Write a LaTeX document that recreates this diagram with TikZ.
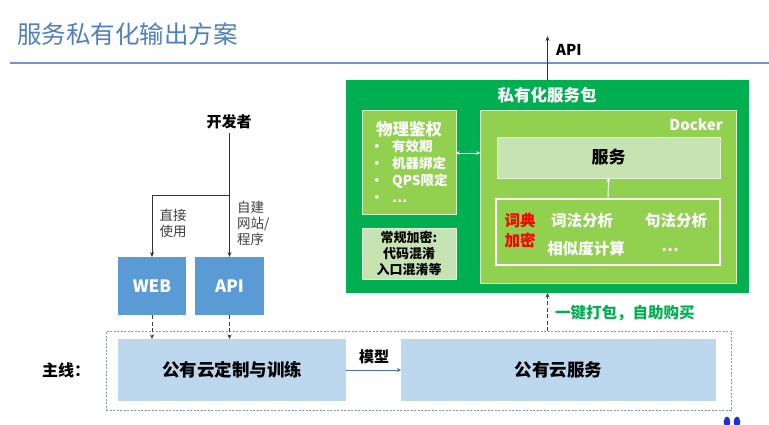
\documentclass[tikz,border=0pt]{standalone}
\usepackage{fontspec}
\setmainfont{Noto Sans CJK SC}
\usetikzlibrary{arrows.meta}
\definecolor{titleblue}{HTML}{4F7FBE}
\definecolor{lineblue}{HTML}{6A97D4}
\definecolor{pkggreen}{HTML}{00B050}
\definecolor{lgreen}{HTML}{92D050}
\definecolor{pgreen}{HTML}{C6E3B2}
\definecolor{boxblue}{HTML}{5B9BD5}
\definecolor{lblue}{HTML}{BDD7EE}
\definecolor{arrblue}{HTML}{4472C4}
\definecolor{dashgray}{HTML}{8497B0}
\definecolor{darkgray}{HTML}{404040}
\definecolor{logoblue}{HTML}{1F2FD0}
\newcommand{\fs}[2]{\fontsize{#1}{#2}\selectfont}
\begin{document}
\begin{tikzpicture}[x=1pt,y=-1pt,
  box/.style={inner sep=0pt, outer sep=0pt},
  wtxt/.style={text=white, font=\bfseries\fs{13}{16}, inner sep=0pt},
  btxt/.style={text=black, font=\bfseries\fs{13}{16}, inner sep=0pt},
  warr/.style={white, line width=0.9pt, -{Stealth[length=4pt,width=3.5pt]}},
  darr/.style={darkgray, line width=0.9pt, dashed, dash pattern=on 4pt off 2.5pt, -{Stealth[length=4.5pt,width=4pt]}},
  karr/.style={black!80, line width=0.9pt, -{Stealth[length=5pt,width=4pt]}}
]
\useasboundingbox (0,0) rectangle (769,425);
\fill[white] (0,0) rectangle (769,425);

% title
\node[anchor=west, text=titleblue, font=\fs{24.5}{28}, inner sep=0pt] (title) at (17,34) {服务私有化输出方案};
\coordinate (l1) at (10,63);
\coordinate (l2) at (769,63);
\draw[lineblue, line width=2pt] (l1) -- (l2);

% private package
\node[box, fill=pkggreen, minimum width=403pt, minimum height=213pt] (pkg) at (547.5,186.5) {};
\node[wtxt, font=\bfseries\fs{16.5}{19}] (pkgt) at (547,95) {私有化服务包};
\coordinate (apitop) at (547.5,36);
\draw[karr] (pkg.north) -- (apitop);
\node[btxt, anchor=west, font=\bfseries\fs{15}{18}] (apil) at (556,50) {API};

% auth box
\node[box, fill=lgreen, draw=white!70!lgreen, line width=0.6pt, minimum width=94pt, minimum height=104pt] (auth) at (409,162) {};
\node[wtxt, font=\bfseries\fs{16.5}{19}] (autht) at (409,129) {物理鉴权};
\node[wtxt, anchor=north west, align=left, font=\bfseries\fs{13.5}{17}] (authl) at (370,139.5)
  {\makebox[22pt][l]{·}有效期\\ \makebox[22pt][l]{·}机器绑定\\ \makebox[22pt][l]{·}QPS限定\\ \makebox[22pt][l]{·}…};

% encryption box
\node[box, fill=pgreen, draw=white!60!pgreen, line width=0.6pt, minimum width=94pt, minimum height=51pt, align=center, font=\bfseries\fs{13}{16}] (enc) at (409,253.5) {常规加密:\\代码混淆\\入口混淆等};

% docker box
\node[box, fill=lgreen, draw=white!70!lgreen, line width=0.8pt, minimum width=256pt, minimum height=173pt] (dock) at (608,196.5) {};
\node[wtxt, anchor=east, font=\bfseries\fs{15}{18}] (dockt) at (723,125) {Docker};
\node[box, fill=pgreen, draw=white!50!pgreen, line width=0.5pt, minimum width=223pt, minimum height=41pt, font=\bfseries\fs{17}{20}] (svc) at (608.5,157.5) {服务};
\node[box, draw=white, line width=1.1pt, minimum width=224pt, minimum height=66pt] (core) at (608,232) {};
\draw[warr] (core.north) -- (svc.south);
\draw[white, line width=0.9pt, {Stealth[length=3.5pt,width=3.5pt]}-{Stealth[length=3.5pt,width=3.5pt]}] ([yshift=9pt]auth.east) -- ([yshift=9pt]auth.east -| dock.west);

\node[text=red, font=\bfseries\fs{15.5}{20}, align=center, inner sep=0pt] (dict) at (520,231) {词典\\加密};
\node[wtxt, font=\bfseries\fs{15.5}{18}] (lex) at (582,221) {词法分析};
\node[wtxt, font=\bfseries\fs{15.5}{18}] (syn) at (676,221) {句法分析};
\node[wtxt, font=\bfseries\fs{15.5}{18}] (sim) at (586,249) {相似度计算};
\node[wtxt, font=\bfseries\fs{15.5}{18}] (etc) at (670,250) {…};

% main line
\node[box, draw=dashgray, line width=0.9pt, dash pattern=on 2pt off 1.5pt, minimum width=625pt, minimum height=79pt] (main) at (418.5,370.5) {};
\node[btxt, font=\bfseries\fs{16}{18}] (mainl) at (66,370) {主线：};
\node[box, fill=lblue, minimum width=228pt, minimum height=62pt, font=\bfseries\fs{17.5}{20}] (train) at (232,370) {公有云定制与训练};
\node[box, fill=lblue, minimum width=315pt, minimum height=62pt, font=\bfseries\fs{17.5}{20}] (cloud) at (558.5,370) {公有云服务};
\draw[arrblue, line width=1pt, -{Stealth[length=4pt,width=4pt]}] (train.east) -- (cloud.west);
\node[btxt, font=\bfseries\fs{15}{17}] (model) at (374,357) {模型};

\draw[darr] (main.north -| pkg.south) -- (pkg.south);
\node[anchor=west, text=pkggreen, font=\bfseries\fs{15.5}{18}, inner sep=0pt] (buy) at (555,313) {一键打包，自助购买};

% developer side
\node[box, fill=boxblue, minimum width=68pt, minimum height=58pt, text=white, font=\bfseries\fs{17}{20}] (web) at (152,286) {WEB};
\node[box, fill=boxblue, minimum width=69pt, minimum height=58pt, text=white, font=\bfseries\fs{17}{20}] (api) at (229.5,286) {API};
\node[btxt, font=\bfseries\fs{15}{18}] (dev) at (229,122) {开发者};
\coordinate (br) at (229.5,195);
\draw[karr] ([yshift=-4pt]dev.south -| api.north) -- (api.north);
\draw[karr] (br) -- (br -| web.north) -- (web.north);
\node[anchor=west, align=left, text=darkgray, font=\fs{13.5}{16}, inner sep=0pt] (direct) at (159.5,223) {直接\\使用};
\node[anchor=west, align=left, text=darkgray, font=\fs{13.5}{16}, inner sep=0pt] (self) at (237,223.5) {自建\\网站/\\程序};
\draw[darr] (web.south) -- (web.south |- train.north);
\draw[darr] (api.south) -- (api.south |- train.north);

% logo fragment
\fill[logoblue] (727,422) ellipse (3.3 and 5.5);
\fill[logoblue] (737,422) ellipse (3.3 and 5.5);
\end{tikzpicture}
\end{document}
